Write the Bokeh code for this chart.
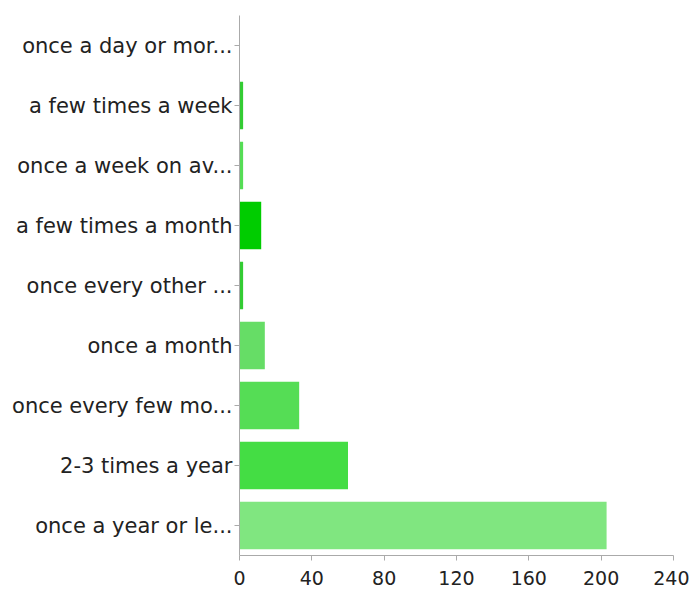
from bokeh.plotting import figure
from bokeh.models import Range1d, FactorRange, FixedTicker, ColumnDataSource
from bokeh.embed import file_html
from bokeh.resources import INLINE

categories = ["once a day or mor...", "a few times a week", "once a week on av...",
              "a few times a month", "once every other ...", "once a month",
              "once every few mo...", "2-3 times a year", "once a year or le..."]
counts = [0, 2, 2, 12, 2, 14, 33, 60, 203]
colors = ["#33cc33", "#33cc33", "#55dd55", "#00cc00", "#33cc33", "#66dd66",
          "#55dd55", "#44dd44", "#80e680"]
x_ticks = [0, 40, 80, 120, 160, 200, 240]

source = ColumnDataSource(dict(cat=categories, val=counts, color=colors))

p = figure(width=689, height=593, output_backend="svg", toolbar_location=None,
           y_range=FactorRange(*reversed(categories), range_padding=0),
           x_range=Range1d(0, 240),
           min_border_left=239, min_border_right=16, min_border_top=15, min_border_bottom=38)
p.hbar(y="cat", right="val", left=0, height=0.79, fill_color="color",
       line_color=None, source=source)

p.outline_line_color = None
p.xgrid.grid_line_color = None
p.ygrid.grid_line_color = None
p.background_fill_color = "white"

p.xaxis.ticker = FixedTicker(ticks=x_ticks)
p.xaxis.minor_tick_line_color = None
p.xaxis.axis_line_color = "#aaaaaa"
p.xaxis.major_tick_line_color = "#aaaaaa"
p.xaxis.major_tick_out = 5
p.xaxis.major_tick_in = 0
p.xaxis.major_label_text_font = "DejaVu Sans"
p.xaxis.major_label_text_font_size = "19px"
p.xaxis.major_label_text_color = "#222222"
p.xaxis.major_label_standoff = 10

p.yaxis.axis_line_color = "#aaaaaa"
p.yaxis.major_tick_line_color = "#aaaaaa"
p.yaxis.major_tick_out = 5
p.yaxis.major_tick_in = 0
p.yaxis.major_label_text_font = "DejaVu Sans"
p.yaxis.major_label_text_font_size = "21px"
p.yaxis.major_label_text_color = "#222222"
p.yaxis.major_label_standoff = 2

open("out.html", "w").write(file_html(p, INLINE))
